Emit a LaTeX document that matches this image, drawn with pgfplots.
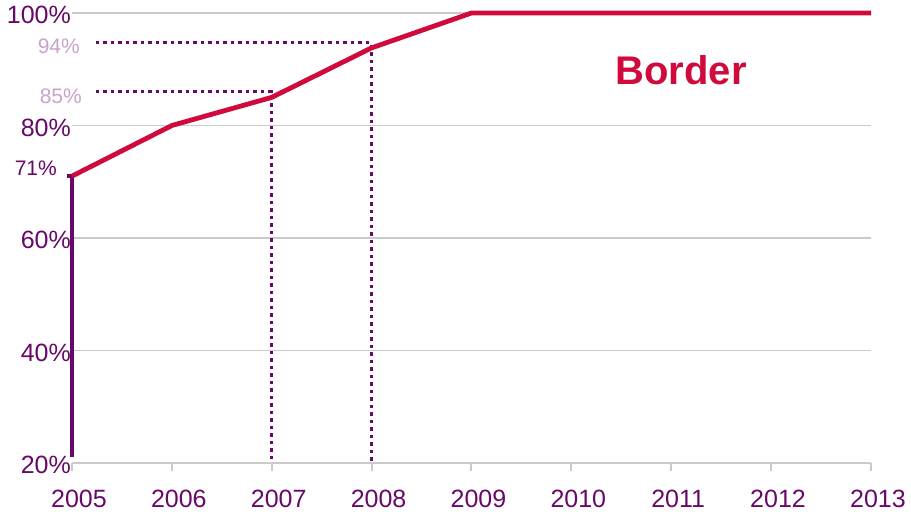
\documentclass[border=0pt]{standalone}
\usepackage{pgfplots}
\pgfplotsset{compat=1.18}
\usepackage{fontspec}
\setmainfont{Liberation Sans}
\definecolor{bordred}{HTML}{D00A3C}
\definecolor{plum}{HTML}{680868}
\definecolor{lightplum}{HTML}{C9A2CA}
\definecolor{gridgray}{HTML}{CACACA}
\begin{document}
\begin{tikzpicture}
\useasboundingbox (0,0) rectangle (911bp,517bp);
\begin{axis}[
	at={(72bp,54bp)}, anchor=south west,
	scale only axis,
	width=799bp, height=450bp,
	xmin=2005, xmax=2013,
	ymin=20, ymax=100,
	xtick={2005,...,2013},
	ytick={20,40,60,80,100},
	yticklabel={\pgfmathprintnumber{\tick}\%},
	x tick label style={/pgf/number format/set thousands separator={}},
	/pgf/number format/assume math mode=true,
	axis y line*=left,
	y axis line style={draw=none},
	axis x line*=bottom,
	x axis line style={gridgray, line width=2bp, -},
	ymajorgrids=true,
	major grid style={gridgray, line width=1.6bp},
	tick align=outside,
	major tick length=8bp,
	xtick style={gridgray, line width=2bp},
	ytick style={draw=none},
	every tick label/.append style={font=\fontsize{25bp}{30bp}\selectfont, text=plum, inner sep=0pt},
	xticklabel style={anchor=north, xshift=7bp, yshift=-19bp},
	yticklabel style={anchor=east, xshift=7bp, yshift=-2bp},
	clip=false,
]
% guide lines
\addplot[plum, line width=3.2bp, dash pattern=on 3.5bp off 4bp]
	coordinates {(2005.24,86.0) (2007,86.0) (2007,20.3)};
\addplot[plum, line width=3.2bp, dash pattern=on 3.5bp off 4bp]
	coordinates {(2005.24,94.7) (2008,94.7) (2008,20.3)};
\addplot[plum, line width=3.5bp]
	coordinates {(2004.95,71) (2005,71) (2005,21.1)};
% series
\addplot[bordred, line width=4.8bp, line join=round]
	coordinates {(2005,71) (2006,80) (2007,85) (2008,93.8) (2009,100) (2010,100) (2011,100) (2012,100) (2013,100)};
\node[anchor=south east, inner sep=0pt, text=plum, font=\fontsize{21bp}{25bp}\selectfont] at (axis cs:2005,71) [xshift=-15bp, yshift=0bp] {71\%};
\node[anchor=east, inner sep=0pt, text=lightplum, font=\fontsize{21bp}{25bp}\selectfont] at (axis cs:2005,94.0) [xshift=8bp] {94\%};
\node[anchor=east, inner sep=0pt, text=lightplum, font=\fontsize{21bp}{25bp}\selectfont] at (axis cs:2005,85.2) [xshift=10bp] {85\%};
\node[text=bordred, inner sep=0pt, font=\bfseries\fontsize{40bp}{48bp}\selectfont] at (axis cs:2011.1,89.8) {Border};
\end{axis}
\end{tikzpicture}
\end{document}
